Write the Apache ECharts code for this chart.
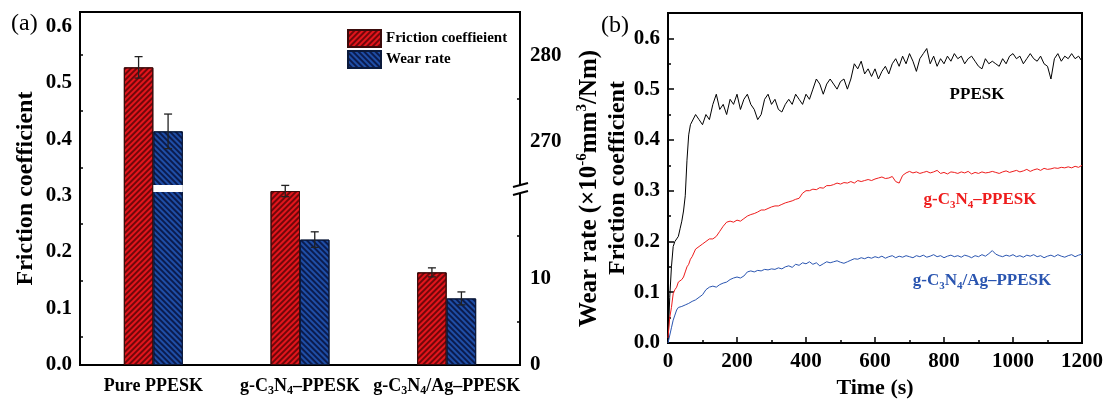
<!DOCTYPE html>
<html><head><meta charset="utf-8">
<script src="https://cdn.jsdelivr.net/npm/echarts@6/dist/echarts.min.js"></script>
<style>html,body{margin:0;padding:0;background:#fff}#c{width:1108px;height:404px}</style>
</head><body><div id="c"></div>
<script>
// ---------- Panel (a) data ----------
const categories = ['Pure PPESK', 'g-C3N4–PPESK', 'g-C3N4/Ag–PPESK'];
const frictionMean = [0.527, 0.308, 0.164];
const frictionErr = [0.019, 0.010, 0.008];
const wearMean = [271.2, 14.5, 7.7];
const wearErr = [2.0, 0.9, 0.75];
const wearBreak = [20, 265];
const wearTickLabels = [0, 10, 270, 280];
const wearMinorTicks = [5, 15, 275];

// ---------- Panel (b) data ----------
const time = [
  0, 5, 10, 15, 20, 25, 30, 35, 40, 45,
  50, 55, 60, 65, 70, 80, 90, 100, 110, 120,
  130, 140, 150, 160, 170, 180, 190, 200, 210, 220,
  230, 240, 250, 260, 270, 280, 290, 300, 310, 320,
  330, 340, 350, 360, 370, 380, 390, 400, 410, 420,
  430, 440, 450, 460, 470, 480, 490, 500, 510, 520,
  530, 540, 550, 560, 570, 580, 590, 600, 610, 620,
  630, 640, 650, 660, 670, 680, 690, 700, 710, 720,
  730, 740, 750, 760, 770, 780, 790, 800, 810, 820,
  830, 840, 850, 860, 870, 880, 890, 900, 910, 920,
  930, 940, 950, 960, 970, 980, 990, 1000, 1010, 1020,
  1030, 1040, 1050, 1060, 1070, 1080, 1090, 1100, 1110, 1120,
  1130, 1140, 1150, 1160, 1170, 1180, 1190, 1200
];
const ppesk = [
  0.00, 0.09, 0.15, 0.19, 0.20, 0.205, 0.21, 0.225, 0.24, 0.26,
  0.29, 0.36, 0.41, 0.43, 0.43, 0.45, 0.44, 0.43, 0.45, 0.44,
  0.47, 0.49, 0.46, 0.47, 0.45, 0.48, 0.47, 0.49, 0.46, 0.48,
  0.49, 0.47, 0.46, 0.44, 0.45, 0.48, 0.49, 0.47, 0.48, 0.46,
  0.455, 0.47, 0.48, 0.47, 0.49, 0.48, 0.47, 0.49, 0.48, 0.50,
  0.52, 0.51, 0.49, 0.51, 0.52, 0.51, 0.50, 0.515, 0.52, 0.50,
  0.52, 0.55, 0.54, 0.555, 0.53, 0.54, 0.525, 0.54, 0.52, 0.535,
  0.545, 0.53, 0.55, 0.56, 0.545, 0.565, 0.55, 0.57, 0.555, 0.535,
  0.56, 0.57, 0.58, 0.55, 0.565, 0.545, 0.56, 0.55, 0.565, 0.555,
  0.57, 0.56, 0.565, 0.55, 0.56, 0.565, 0.555, 0.545, 0.54, 0.56,
  0.55, 0.555, 0.55, 0.545, 0.56, 0.55, 0.565, 0.57, 0.56, 0.565,
  0.55, 0.56, 0.57, 0.56, 0.555, 0.565, 0.55, 0.545, 0.52, 0.56,
  0.57, 0.555, 0.565, 0.56, 0.57, 0.56, 0.565, 0.555
];
const gc3n4 = [
  0.01, 0.05, 0.07, 0.097, 0.105, 0.11, 0.12, 0.122, 0.125, 0.13,
  0.14, 0.15, 0.155, 0.165, 0.17, 0.185, 0.19, 0.195, 0.20, 0.205,
  0.205, 0.21, 0.22, 0.23, 0.238, 0.24, 0.238, 0.242, 0.24, 0.245,
  0.25, 0.253, 0.255, 0.258, 0.262, 0.262, 0.265, 0.268, 0.27, 0.27,
  0.273, 0.276, 0.278, 0.28, 0.283, 0.285, 0.295, 0.30, 0.30, 0.303,
  0.302, 0.306, 0.305, 0.31, 0.31, 0.312, 0.315, 0.313, 0.316, 0.315,
  0.318, 0.315, 0.32, 0.318, 0.32, 0.322, 0.32, 0.323, 0.325, 0.327,
  0.324, 0.325, 0.328, 0.318, 0.315, 0.33, 0.335, 0.338, 0.335, 0.337,
  0.334, 0.336, 0.338, 0.335, 0.337, 0.34, 0.334, 0.336, 0.333, 0.337,
  0.336, 0.334, 0.337, 0.335, 0.338, 0.333, 0.336, 0.334, 0.337, 0.335,
  0.336, 0.338, 0.336, 0.334, 0.337, 0.339, 0.336, 0.338, 0.34, 0.337,
  0.339, 0.342, 0.338, 0.341, 0.343, 0.34, 0.344, 0.342, 0.343, 0.345,
  0.344, 0.346, 0.345, 0.347, 0.345, 0.348, 0.346, 0.35
];
const gc3n4ag = [
  0.0, 0.0, 0.03, 0.045, 0.055, 0.065, 0.07, 0.068, 0.072, 0.07,
  0.075, 0.074, 0.078, 0.08, 0.082, 0.085, 0.09, 0.095, 0.105, 0.11,
  0.112, 0.11, 0.115, 0.118, 0.12, 0.125, 0.128, 0.13, 0.128, 0.132,
  0.14, 0.142, 0.14, 0.143, 0.142, 0.145, 0.144, 0.146, 0.145, 0.148,
  0.146, 0.15, 0.152, 0.149, 0.155, 0.153, 0.158, 0.156, 0.16, 0.155,
  0.158, 0.152, 0.156, 0.16, 0.158, 0.16, 0.162, 0.159, 0.157, 0.16,
  0.163, 0.166, 0.165, 0.168, 0.166, 0.169, 0.167, 0.17, 0.168, 0.171,
  0.167, 0.17, 0.172, 0.168, 0.171, 0.169, 0.172, 0.17, 0.168, 0.172,
  0.17, 0.173, 0.169, 0.171, 0.174, 0.17, 0.172, 0.168, 0.171, 0.173,
  0.17, 0.172, 0.169, 0.173, 0.171, 0.168, 0.172, 0.17, 0.174, 0.171,
  0.176, 0.182, 0.175, 0.172, 0.17, 0.173, 0.171, 0.174, 0.17, 0.172,
  0.169, 0.173, 0.171, 0.174, 0.17, 0.172, 0.168, 0.171, 0.173, 0.17,
  0.174, 0.171, 0.169, 0.172, 0.174, 0.17, 0.173, 0.175
];

// ---------- styling ----------
const SERIF = "'Liberation Serif', 'DejaVu Serif', serif";
const BAR_W = 29.5;
const subRich = {
  s: { fontFamily: SERIF, fontWeight: 'bold', fontSize: 12, verticalAlign: 'bottom', lineHeight: 12 }
};
const supRich = {
  sup: { fontFamily: SERIF, fontWeight: 'bold', fontSize: 15, verticalAlign: 'top', lineHeight: 15 }
};
function chem(s) { return s.replace('C3N4', 'C{s|3}N{s|4}'); }

const axisLineStyle = { show: true, lineStyle: { color: '#000', width: 2 } };
const tickLabel = { fontFamily: SERIF, fontWeight: 'bold', fontSize: 21, color: '#000', showMaxLabel: false };
const nameStyle = { fontFamily: SERIF, fontWeight: 'bold', fontSize: 24, color: '#000' };
const majorTick = { inside: true, length: 6, lineStyle: { color: '#000', width: 1.5 } };
const minorTickSt = { show: true, splitNumber: 2, length: 3, lineStyle: { color: '#000', width: 1.5 } };

const redStyle = {
  color: '#e3151c', borderColor: '#3b0b0b', borderWidth: 1,
  decal: { symbol: 'rect', symbolSize: 1, dashArrayX: [1, 0], dashArrayY: [1.1, 2], rotation: -Math.PI / 4, color: 'rgba(50,0,0,0.65)' }
};
const blueStyle = {
  color: '#1f4ea6', borderColor: '#0b1a3b', borderWidth: 1,
  decal: { symbol: 'rect', symbolSize: 1, dashArrayX: [1, 0], dashArrayY: [1.1, 2], rotation: Math.PI / 4, color: 'rgba(0,0,30,0.65)' }
};

function errRender(offset) {
  return function (params, api) {
    const i = api.value(0);
    const p1 = api.coord([i, api.value(1)]);
    const p2 = api.coord([i, api.value(2)]);
    const x = p1[0] + offset, w = 4;
    const st = { stroke: '#222', lineWidth: 1.3 };
    return { type: 'group', children: [
      { type: 'line', shape: { x1: x, y1: p1[1], x2: x, y2: p2[1] }, style: st },
      { type: 'line', shape: { x1: x - w, y1: p1[1], x2: x + w, y2: p1[1] }, style: st },
      { type: 'line', shape: { x1: x - w, y1: p2[1], x2: x + w, y2: p2[1] }, style: st }
    ]};
  };
}

const wearAxisBase = {
  type: 'value', gridIndex: 0, position: 'right', min: 0, max: 285,
  breaks: [{ start: wearBreak[0], end: wearBreak[1], gap: '2%' }],
  breakArea: { show: false, expandOnClick: false },
  splitLine: { show: false }
};

const chart = echarts.init(document.getElementById('c'), null, { renderer: 'canvas' });
const option = {
  animation: false,
  backgroundColor: '#fff',
  legend: {
    data: ['Friction coeffieient', 'Wear rate'],
    left: 342, top: 24, orient: 'vertical', icon: 'rect',
    itemWidth: 33, itemHeight: 17, itemGap: 2,
    textStyle: { fontFamily: SERIF, fontWeight: 'bold', fontSize: 15, color: '#000' }
  },
  grid: [
    { left: 80, top: 12, width: 440, height: 353, show: true, borderColor: '#000', borderWidth: 2, backgroundColor: 'transparent' },
    { left: 668, top: 13, width: 414, height: 334, show: true, borderColor: '#000', borderWidth: 2, backgroundColor: 'transparent' }
  ],
  xAxis: [
    { type: 'category', gridIndex: 0, data: categories, axisLine: axisLineStyle, axisTick: { show: false },
      axisLabel: { interval: 0, fontFamily: SERIF, fontWeight: 'bold', fontSize: 18, color: '#000', margin: 10, lineHeight: 22,
        formatter: v => chem(v), rich: subRich } },
    { type: 'category', gridIndex: 0, data: categories, show: false },
    { type: 'value', gridIndex: 1, min: 0, max: 1200, interval: 200, axisLine: axisLineStyle,
      axisTick: majorTick, minorTick: minorTickSt,
      splitLine: { show: false }, axisLabel: Object.assign({}, tickLabel, { margin: 8, showMaxLabel: true, formatter: v => String(v) }),
      name: 'Time (s)', nameLocation: 'middle', nameGap: 34, nameTextStyle: Object.assign({}, nameStyle, { fontSize: 22 }) }
  ],
  yAxis: [
    { type: 'value', gridIndex: 0, min: 0, max: 0.625, interval: 0.1, axisLine: axisLineStyle,
      axisTick: majorTick, minorTick: minorTickSt,
      splitLine: { show: false },
      axisLabel: Object.assign({ margin: 8, formatter: v => v.toFixed(1) }, tickLabel),
      name: 'Friction coefficient', nameLocation: 'middle', nameRotate: 90, nameGap: 42, nameTextStyle: nameStyle },
    Object.assign({}, wearAxisBase, {
      axisLine: axisLineStyle,
      axisTick: Object.assign({ customValues: wearTickLabels }, majorTick),
      axisLabel: Object.assign({}, tickLabel, { margin: 10, customValues: wearTickLabels, showMaxLabel: true, showMinLabel: true, formatter: v => String(Math.round(v)) }),
      name: 'Wear rate (×10{sup|-6}mm{sup|3}/Nm)', nameLocation: 'middle', nameRotate: 90, nameGap: 55,
      nameTextStyle: Object.assign({ rich: supRich, lineHeight: 30 }, nameStyle, { fontSize: 25 }) }),
    { type: 'value', gridIndex: 1, min: 0, max: 0.65, interval: 0.1, axisLine: axisLineStyle,
      axisTick: majorTick, minorTick: minorTickSt,
      splitLine: { show: false },
      axisLabel: Object.assign({ margin: 8, formatter: v => v.toFixed(1) }, tickLabel),
      name: 'Friction coefficient', nameLocation: 'middle', nameRotate: 90, nameGap: 38, nameTextStyle: nameStyle },
    // minor ticks for the broken wear-rate axis
    Object.assign({}, wearAxisBase, {
      axisLine: { show: false }, axisLabel: { show: false },
      axisTick: { show: true, inside: true, length: 3, customValues: wearMinorTicks, lineStyle: { color: '#000', width: 1.5 } }
    })
  ],
  series: [
    { name: 'Friction coeffieient', type: 'bar', xAxisIndex: 0, yAxisIndex: 0, data: frictionMean,
      barWidth: BAR_W, barGap: '0%', itemStyle: redStyle, z: 2 },
    { name: 'Wear rate', type: 'bar', xAxisIndex: 0, yAxisIndex: 1, data: wearMean,
      barWidth: BAR_W, barGap: '0%', itemStyle: blueStyle, z: 2 },
    // layout helpers on the hidden category axis: white gap over the broken wear-rate bar
    { name: 'slot', type: 'bar', xAxisIndex: 1, yAxisIndex: 1, data: categories.map(() => '-'), barWidth: BAR_W, barGap: '0%' },
    { name: 'gapBase', type: 'bar', xAxisIndex: 1, yAxisIndex: 1, stack: 'gap', barWidth: BAR_W, barGap: '0%',
      data: wearMean.map(v => v > wearBreak[1] ? wearBreak[0] : '-'), itemStyle: { color: 'rgba(0,0,0,0)' }, z: 3, silent: true },
    { name: 'gap', type: 'bar', xAxisIndex: 1, yAxisIndex: 1, stack: 'gap', barWidth: BAR_W, barGap: '0%',
      data: wearMean.map(v => v > wearBreak[1] ? wearBreak[1] - wearBreak[0] : '-'),
      itemStyle: { color: '#fff', borderColor: '#fff', borderWidth: 1.5 }, z: 3, silent: true },
    { type: 'custom', xAxisIndex: 0, yAxisIndex: 0, renderItem: errRender(-BAR_W / 2), z: 4,
      encode: { x: 0, y: [1, 2] },
      data: frictionMean.map((m, i) => [i, m - frictionErr[i], m + frictionErr[i]]) },
    { type: 'custom', xAxisIndex: 0, yAxisIndex: 1, renderItem: errRender(BAR_W / 2), z: 4,
      encode: { x: 0, y: [1, 2] },
      data: wearMean.map((m, i) => [i, m - wearErr[i], m + wearErr[i]]) },
    { name: 'PPESK', type: 'line', xAxisIndex: 2, yAxisIndex: 2, showSymbol: false,
      lineStyle: { color: '#000', width: 1 }, data: time.map((t, i) => [t, ppesk[i]]) },
    { name: 'g-C3N4–PPESK', type: 'line', xAxisIndex: 2, yAxisIndex: 2, showSymbol: false,
      lineStyle: { color: '#ee1c1c', width: 1 }, data: time.map((t, i) => [t, gc3n4[i]]) },
    { name: 'g-C3N4/Ag–PPESK', type: 'line', xAxisIndex: 2, yAxisIndex: 2, showSymbol: false,
      lineStyle: { color: '#2a55b0', width: 1 }, data: time.map((t, i) => [t, gc3n4ag[i]]) }
  ],
  graphic: [
    { type: 'text', x: 11, y: 12, style: { text: '(a)', fontFamily: SERIF, fontSize: 24, fill: '#000' } },
    { type: 'text', x: 601, y: 14, style: { text: '(b)', fontFamily: SERIF, fontSize: 24, fill: '#000' } },
    { type: 'text', x: 977, y: 95, style: { text: 'PPESK', align: 'center', verticalAlign: 'middle', fontFamily: SERIF, fontWeight: 'bold', fontSize: 17, fill: '#000' } },
    { type: 'text', x: 980, y: 200, style: { text: 'g-C{s|3}N{s|4}–PPESK', align: 'center', verticalAlign: 'middle', fontFamily: SERIF, fontWeight: 'bold', fontSize: 17, lineHeight: 22, fill: '#ee1c1c',
      rich: { s: { fontFamily: SERIF, fontWeight: 'bold', fontSize: 11, verticalAlign: 'bottom', lineHeight: 11, fill: '#ee1c1c' } } } },
    { type: 'text', x: 982, y: 281, style: { text: 'g-C{s|3}N{s|4}/Ag–PPESK', align: 'center', verticalAlign: 'middle', fontFamily: SERIF, fontWeight: 'bold', fontSize: 17, lineHeight: 22, fill: '#2a55b0',
      rich: { s: { fontFamily: SERIF, fontWeight: 'bold', fontSize: 11, verticalAlign: 'bottom', lineHeight: 11, fill: '#2a55b0' } } } },
    // axis-break symbol on the wear-rate axis
    { type: 'polygon', z: 100, shape: { points: [[513, 187], [528, 183], [528, 191], [513, 195]] }, style: { fill: '#fff' } },
    { type: 'line', z: 101, shape: { x1: 513, y1: 187, x2: 528, y2: 183 }, style: { stroke: '#000', lineWidth: 2 } },
    { type: 'line', z: 101, shape: { x1: 513, y1: 195, x2: 528, y2: 191 }, style: { stroke: '#000', lineWidth: 2 } }
  ]
};
chart.setOption(option);
</script>
</body></html>
